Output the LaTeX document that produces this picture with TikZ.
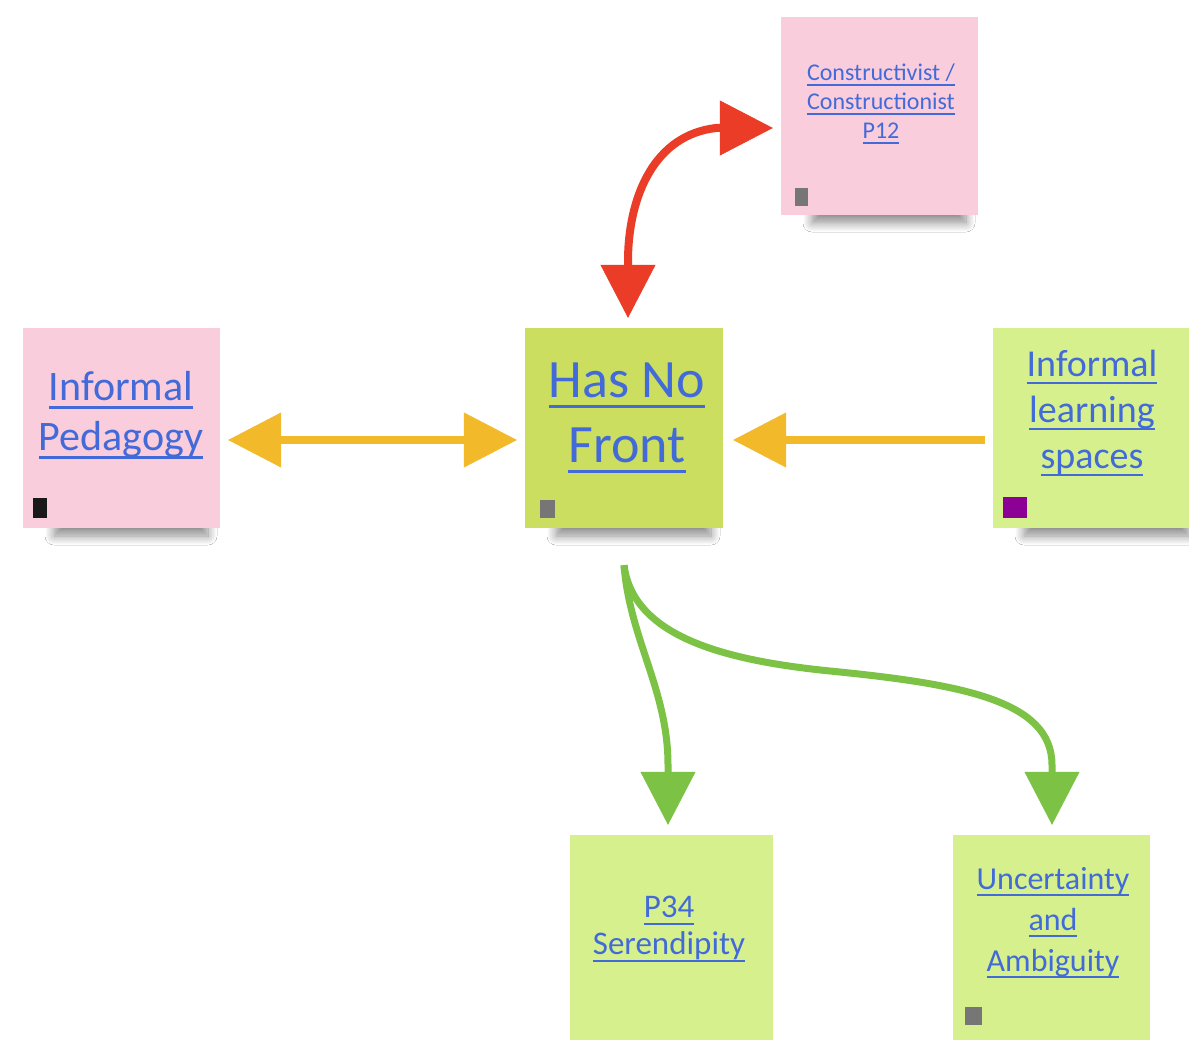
\documentclass[tikz,border=0pt]{standalone}
\usepackage{fontspec}
\setmainfont{Carlito}
\usetikzlibrary{arrows.meta,shadows.blur}
\definecolor{pinknote}{RGB}{250,205,221}
\definecolor{hnfcol}{RGB}{203,222,96}
\definecolor{lgreen}{RGB}{215,240,142}
\definecolor{linkblue}{RGB}{66,106,216}
\definecolor{yelarrow}{RGB}{242,186,42}
\definecolor{redarrow}{RGB}{234,60,38}
\definecolor{grnarrow}{RGB}{124,194,68}
\definecolor{taggray}{RGB}{118,118,118}
\definecolor{tagpurple}{RGB}{140,0,150}
\newsavebox{\lkbox}
\newcommand{\lk}[1]{\sbox{\lkbox}{#1}\leavevmode\rlap{\rule[-0.2em]{\wd\lkbox}{0.055em}}\usebox{\lkbox}}
\begin{document}
\begin{tikzpicture}[x=1pt,y=-1pt,
  note/.style={rectangle, inner sep=0pt, draw=none},
  noteshadow/.style={blur shadow={shadow xshift=0pt, shadow yshift=-8pt, shadow opacity=45, shadow blur radius=9pt, shadow blur steps=12}},
  notetext/.style={align=center, text=linkblue, inner sep=0pt},
  conyellow/.style={draw=yelarrow, line width=8pt},
  conred/.style={draw=redarrow, line width=8pt},
  congreen/.style={draw=grnarrow, line width=7pt}
]
\tikzset{>={Triangle[length=53pt,width=55pt,line width=0.5pt 0]}}
\useasboundingbox (0,0) rectangle (1189,1040);
\fill[white] (0,0) rectangle (1189,1040);

% shadows
\path[noteshadow] (812,175) rectangle (966,215);
\path[noteshadow] (54,488) rectangle (208,528);
\path[noteshadow] (556,488) rectangle (711,528);
\path[noteshadow] (1024,488) rectangle (1189,528);

% notes
\node[note, fill=pinknote, minimum width=197pt, minimum height=198pt] (con) at (879.5,116) {};
\node[note, fill=pinknote, minimum width=197pt, minimum height=200pt] (ip) at (121.5,428) {};
\node[note, fill=hnfcol, minimum width=198pt, minimum height=200pt] (hnf) at (624,428) {};
\node[note, fill=lgreen, minimum width=197pt, minimum height=200pt] (ils) at (1091.5,428) {};
\node[note, fill=lgreen, minimum width=203pt, minimum height=210pt] (p34) at (671.5,940) {};
\node[note, fill=lgreen, minimum width=197pt, minimum height=210pt] (unc) at (1051.5,940) {};

% tags
\fill[taggray] (795,188) rectangle (808,206);
\fill[black!90] (33,498) rectangle (47,518);
\fill[taggray] (540,500) rectangle (555,518);
\fill[tagpurple] (1003,497) rectangle (1027,518);
\fill[taggray] (965,1007) rectangle (982,1025);

% texts
\node[notetext, font=\fontsize{24}{29}\selectfont] (con-t) at (881,104)
  {\lk{Constructivist /}\\\lk{Constructionist}\\\lk{P12}};
\node[notetext, font=\fontsize{42}{50}\selectfont] (ip-t) at (121,415)
  {\lk{Informal}\\\lk{Pedagogy}};
\node[notetext, font=\fontsize{54}{65}\selectfont] (hnf-t) at (627,418)
  {\lk{Has No}\\\lk{Front}};
\node[notetext, font=\fontsize{38}{46}\selectfont] (ils-t) at (1092,413)
  {\lk{Informal}\\\lk{learning}\\\lk{spaces}};
\node[notetext, font=\fontsize{33}{37}\selectfont] (p34-t) at (669,929)
  {\lk{P34}\\\lk{Serendipity}};
\node[notetext, font=\fontsize{32}{41}\selectfont] (unc-t) at (1053,923)
  {\lk{Uncertainty}\\\lk{and}\\\lk{Ambiguity}};

% connectors
\draw[conyellow, <->, shorten <=8pt, shorten >=8pt]
  ([yshift=-12pt]ip.east) -- ([yshift=-12pt]hnf.west);
\draw[conyellow, ->, shorten <=8pt, shorten >=10pt]
  ([yshift=-12pt]ils.west) -- ([yshift=-12pt]hnf.east);
\draw[conred, <->]
  ([xshift=4pt,yshift=10pt]hnf.north) -- (628,258)
  .. controls (629,195) and (655,135) .. (716,128)
  -- ([xshift=-8pt,yshift=-12pt]con.west);
\draw[congreen, ->]
  ([yshift=-37pt]hnf.south) .. controls (630,640) and (668,690) .. (668,765)
  -- ([xshift=-3.5pt,yshift=10pt]p34.north);
\draw[congreen, ->]
  ([yshift=-37pt]hnf.south) .. controls (633,635) and (720,660) .. (830,671)
  .. controls (960,684) and (1052,700) .. (1052,765)
  -- ([xshift=0.5pt,yshift=10pt]unc.north);
\end{tikzpicture}
\end{document}
